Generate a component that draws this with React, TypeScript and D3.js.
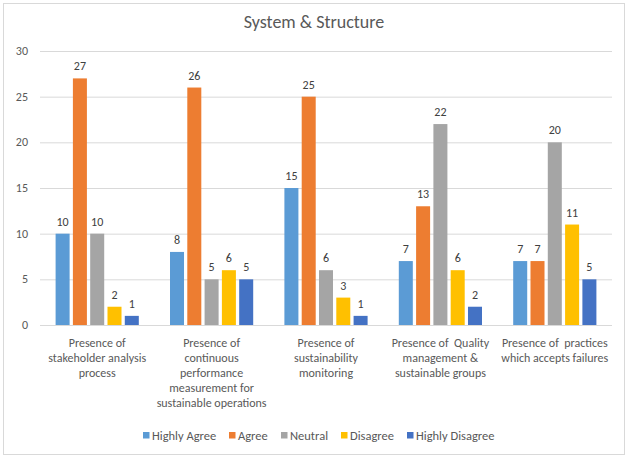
import React from "react";
import * as d3 from "d3";

const categories: string[][] = [
  ["Presence of", "stakeholder analysis", "process"],
  ["Presence of", "continuous", "performance", "measurement for", "sustainable operations"],
  ["Presence of", "sustainability", "monitoring"],
  ["Presence of  Quality", "management &", "sustainable groups"],
  ["Presence of  practices", "which accepts failures"],
];
const seriesNames = ["Highly Agree", "Agree", "Neutral", "Disagree", "Highly Disagree"];
const seriesColors = ["#5B9BD5", "#ED7D31", "#A5A5A5", "#FFC000", "#4472C4"];
const highlyAgree = [10, 8, 15, 7, 7];
const agree = [27, 26, 25, 13, 7];
const neutral = [10, 5, 6, 22, 20];
const disagree = [2, 6, 3, 6, 11];
const highlyDisagree = [1, 5, 1, 2, 5];
const seriesValues = [highlyAgree, agree, neutral, disagree, highlyDisagree];
const yTicks = [0, 5, 10, 15, 20, 25, 30];
const legendX = [143, 229, 281, 341, 407];

const W = 629;
const H = 459;
const font = "Carlito, Calibri, Lato, 'Liberation Sans', sans-serif";

export default function App() {
  const plotL = 40, plotR = 612, plotT = 51, plotB = 325;
  const x0 = d3.scaleBand<number>().domain(d3.range(categories.length)).range([plotL, plotR]).paddingInner(0).paddingOuter(0);
  const groupW = 83.2;
  const x1 = d3.scaleBand<number>().domain(d3.range(seriesNames.length)).range([0, groupW]).paddingInner(0.19).paddingOuter(0);
  const y = d3.scaleLinear().domain([0, 30]).range([plotB, plotT]);
  const textColor = "#595959";

  return (
    <svg width={W} height={H} style={{ position: "absolute", left: 0, top: 0, background: "#fff" }} fontFamily={font}>
      <rect x={3.5} y={3.5} width={621} height={451} fill="#fff" stroke="#d9d9d9" />
      <text x={314} y={28} textAnchor="middle" fontSize={18} fill={textColor}>System &amp; Structure</text>
      {yTicks.map((t) => (
        <g key={t}>
          <line x1={plotL} x2={plotR} y1={y(t) + 0.5} y2={y(t) + 0.5} stroke="#d9d9d9" />
          <text x={28} y={y(t) + 4} textAnchor="end" fontSize={12} fill={textColor}>{t}</text>
        </g>
      ))}
      {categories.map((lines, ci) => {
        const cx = x0(ci)! + x0.bandwidth() / 2;
        const gx = cx - groupW / 2;
        return (
          <g key={ci}>
            {seriesValues.map((vals, si) => {
              const v = vals[ci];
              const bx = gx + x1(si)!;
              return (
                <g key={si}>
                  <rect x={bx} y={y(v)} width={x1.bandwidth()} height={plotB - y(v)} fill={seriesColors[si]} />
                  <text x={bx + x1.bandwidth() / 2} y={y(v) - 8} textAnchor="middle" fontSize={12} fill="#404040">{v}</text>
                </g>
              );
            })}
            {lines.map((ln, li) => (
              <text key={li} x={cx} y={347 + li * 15} textAnchor="middle" fontSize={12} fill={textColor} style={{ whiteSpace: "pre" }}>{ln}</text>
            ))}
          </g>
        );
      })}
      {seriesNames.map((n, i) => (
        <g key={n}>
          <rect x={legendX[i]} y={432} width={6.5} height={6.5} fill={seriesColors[i]} />
          <text x={legendX[i] + 9} y={440} fontSize={12.5} fill={textColor}>{n}</text>
        </g>
      ))}
    </svg>
  );
}
